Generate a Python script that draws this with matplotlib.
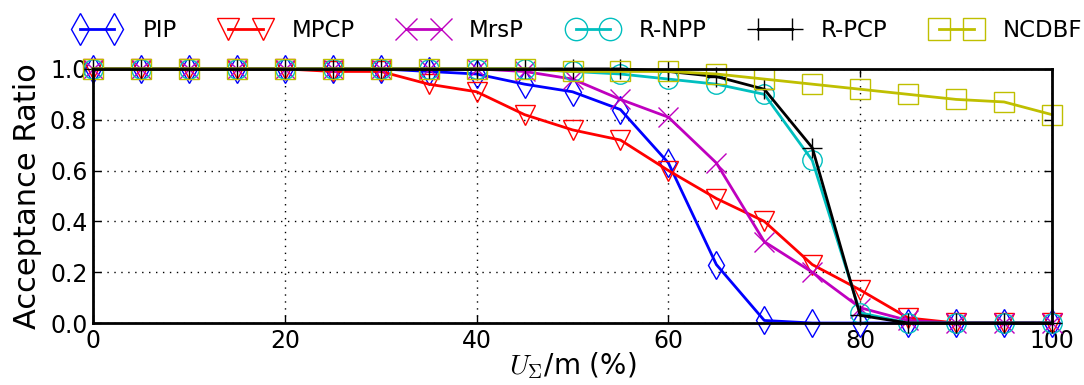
import matplotlib
matplotlib.use("Agg")
import matplotlib.pyplot as plt

# utilisation points (%)
util = [0, 5, 10, 15, 20, 25, 30, 35, 40, 45, 50, 55, 60, 65, 70, 75, 80, 85, 90, 95, 100]

pip = [1.0, 1.0, 1.0, 1.0, 1.0, 1.0, 1.0, 0.99, 0.98, 0.94, 0.91, 0.84, 0.63, 0.23, 0.01, 0.0, 0.0, 0.0, 0.0, 0.0, 0.0]
mpcp = [1.0, 1.0, 1.0, 1.0, 1.0, 0.99, 0.99, 0.94, 0.91, 0.82, 0.76, 0.72, 0.60, 0.49, 0.40, 0.23, 0.13, 0.02, 0.0, 0.0, 0.0]
mrsp = [1.0, 1.0, 1.0, 1.0, 1.0, 1.0, 1.0, 1.0, 1.0, 0.99, 0.96, 0.88, 0.81, 0.63, 0.32, 0.20, 0.06, 0.01, 0.0, 0.0, 0.0]
rnpp = [1.0, 1.0, 1.0, 1.0, 1.0, 1.0, 1.0, 1.0, 1.0, 1.0, 0.99, 0.98, 0.96, 0.94, 0.90, 0.64, 0.04, 0.0, 0.0, 0.0, 0.0]
rpcp = [1.0, 1.0, 1.0, 1.0, 1.0, 1.0, 1.0, 1.0, 1.0, 1.0, 1.0, 1.0, 0.99, 0.97, 0.92, 0.69, 0.03, 0.0, 0.0, 0.0, 0.0]
ncdbf = [1.0, 1.0, 1.0, 1.0, 1.0, 1.0, 1.0, 1.0, 1.0, 1.0, 0.99, 0.99, 0.99, 0.98, 0.96, 0.94, 0.92, 0.90, 0.88, 0.87, 0.82]

names = ["PIP", "MPCP", "MrsP", "R-NPP", "R-PCP", "NCDBF"]
series = [pip, mpcp, mrsp, rnpp, rpcp, ncdbf]
colors = ["b", "r", "m", "c", "k", "y"]
markers = ["d", "v", "x", "o", "+", "s"]

x_ticks = [0, 20, 40, 60, 80, 100]
y_ticks = [0.0, 0.2, 0.4, 0.6, 0.8, 1.0]

plt.rcParams["font.family"] = "DejaVu Sans"
plt.rcParams["mathtext.fontset"] = "cm"

fig = plt.figure(figsize=(10.84, 3.85), dpi=100)
ax = fig.add_axes([0.0858, 0.161, 0.8847, 0.660])

for name, ys, c, m in zip(names, series, colors, markers):
    ax.plot(util, ys, color=c, marker=m, markersize=14, markerfacecolor="none",
            markeredgecolor=c, markeredgewidth=1, linewidth=2, label=name, clip_on=False)

ax.set_xlim(0, 100)
ax.set_ylim(0, 1.0)
ax.set_xticks(x_ticks)
ax.set_yticks(y_ticks)
ax.set_yticklabels([f"{v:.1f}" for v in y_ticks])
ax.tick_params(direction="in", labelsize=17, length=6, width=1, top=True, right=True, pad=4)
ax.grid(True, color="k", linestyle=(0, (1, 4)), linewidth=1)
for s in ax.spines.values():
    s.set_linewidth(2)

ax.set_xlabel(r"$U_\Sigma$/m (%)", fontsize=20, labelpad=-2)
ax.set_ylabel("Acceptance Ratio", fontsize=22, labelpad=6)

ax.legend(loc="lower center", bbox_to_anchor=(0.505, 1.07), ncol=6, frameon=False,
          fontsize=16.5, numpoints=2, handlelength=2.1, columnspacing=1.95, handletextpad=0.95,
          borderaxespad=0, markerscale=1.15)

fig.savefig("out.png", dpi=100)
